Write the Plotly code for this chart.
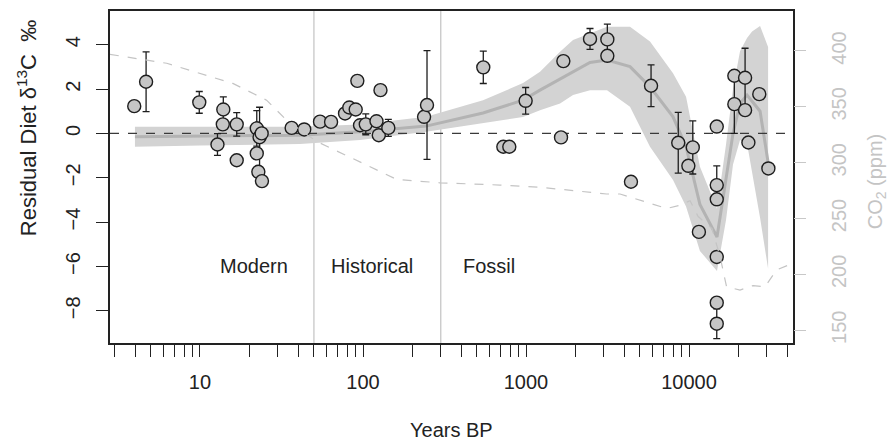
import math
import plotly.graph_objects as go

# ---------------- data ----------------
years = [3.95, 4.67, 9.9, 13.9, 13.8, 12.8, 16.8, 16.8, 22.3, 23.2, 23.9, 22.3, 22.8, 24.0,
         36.5, 43.6, 54.5, 63.7, 77.6, 82.4, 90.2, 92.3, 95.9, 104, 121, 125, 128, 143,
         237, 247, 547, 726, 790, 995, 1640, 1695, 2470, 3155, 3155, 4405,
         5850, 8590, 9910, 10550, 11500, 14800, 14800, 14800, 14800, 14800, 14800,
         18970, 18970, 22080, 22080, 23140, 26980, 30690]
resid = [1.23, 2.33, 1.40, 1.08, 0.41, -0.50, 0.41, -1.21, 0.23, -0.17, 0.0, -0.90, -1.73, -2.15,
         0.25, 0.18, 0.53, 0.52, 0.90, 1.17, 1.08, 2.37, 0.37, 0.41, 0.55, -0.08, 1.95, 0.25,
         0.75, 1.28, 2.98, -0.60, -0.60, 1.47, -0.18, 3.26, 4.26, 4.24, 3.50, -2.18,
         2.15, -0.42, -1.46, -0.63, -4.44, 0.31, -2.33, -2.97, -5.57, -7.63, -8.58,
         2.60, 1.32, 2.51, 1.05, -0.41, 1.77, -1.58]
resid_err = [0, 1.35, 0.49, 0.57, 0, 0.49, 0.53, 0, 0.80, 1.35, 0, 0, 0, 0,
             0, 0, 0, 0, 0, 0, 0, 0, 0, 0.47, 0, 0, 0, 0.38,
             0, 2.45, 0.73, 0, 0, 0.60, 0, 0, 0.47, 0.69, 0, 0,
             0.94, 1.37, 0, 1.20, 0, 0, 0.87, 0, 0, 0, 0.67,
             0, 1.32, 1.33, 0, 0, 0, 0]

# smoothed trend with confidence band
fit_years = [3.99, 10, 41, 96, 244, 545, 959, 1219, 1618, 1943, 2470, 3140, 4345, 5765,
             7980, 9590, 11670, 14850, 16870, 18620, 20560, 22700, 24370, 27290, 30560]
fit_mid = [-0.15, -0.12, -0.08, 0.07, 0.33, 0.92, 1.50, 1.95, 2.45, 2.78, 3.20, 3.31, 3.01, 2.10,
           0.75, -0.60, -3.20, -4.67, -1.96, 0.0, 1.35, 1.73, 1.45, 1.00, -1.30]
fit_upper = [0.30, 0.30, 0.30, 0.40, 0.75, 1.50, 2.27, 2.78, 3.68, 4.21, 4.51, 4.81, 4.81, 4.14,
             2.71, 1.65, -1.50, -3.40, -0.50, 2.00, 3.70, 4.30, 4.60, 4.84, 3.90]
fit_lower = [-0.60, -0.55, -0.48, -0.30, 0.07, 0.46, 0.74, 1.05, 1.35, 1.73, 1.95, 1.95, 1.20, -0.60,
             -2.10, -3.30, -5.30, -6.20, -3.90, -1.40, -0.30, -0.45, -1.65, -3.80, -6.10]

# atmospheric CO2 (ppm)
co2_years = [2.8, 6.25, 15.9, 25.6, 34, 52, 83, 127, 161, 296, 692, 1219, 3126, 3775,
             7300, 8815, 10150, 11350, 13830, 15500, 17000, 20550, 24700, 29250, 34500, 41700]
co2_ppm = [397, 389, 371, 356, 338, 319, 305, 292, 285, 282, 280, 278, 272, 272,
           259, 262, 266, 252, 241, 216, 189, 186, 190, 189, 204, 209]

period_bounds = [50, 300]
period_labels = ["Modern", "Historical", "Fossil"]
period_label_years = [12.9, 61.8, 399]
period_label_y = -6

x_major = [10, 100, 1000, 10000]
x_major_text = ["10", "100", "1000", "10000"]
x_minor = [3, 4, 5, 6, 7, 8, 9, 20, 30, 40, 50, 60, 70, 80, 90, 200, 300, 400, 500,
           600, 700, 800, 900, 2000, 3000, 4000, 5000, 6000, 7000, 8000, 9000,
           20000, 30000, 40000]
y_tickvals = [-8, -6, -4, -2, 0, 2, 4]
y_ticktext = ["\u22128", "\u22126", "\u22124", "\u22122", "0", "2", "4"]
y2_tickvals = [150, 200, 250, 300, 350, 400]

# ---------------- figure ----------------
FONT = "Liberation Sans, Arial, Helvetica, sans-serif"
INK = "#222222"
xlog_range = [0.4479, 4.638]
y_range = [-9.45, 5.52]
y2_range = [138.6, 435.8]

fig = go.Figure()

# CO2 dashed line on right axis
fig.add_trace(go.Scatter(x=co2_years, y=co2_ppm, yaxis="y2", mode="lines",
                         line=dict(color="#c4c4c4", width=1.2, dash="dash"),
                         hoverinfo="skip", showlegend=False))

# confidence band
fig.add_trace(go.Scatter(x=fit_years + fit_years[::-1], y=fit_upper + fit_lower[::-1],
                         mode="lines", fill="toself", fillcolor="#d3d3d3",
                         line=dict(width=0, color="#d3d3d3"), hoverinfo="skip", showlegend=False))
fig.add_trace(go.Scatter(x=fit_years, y=fit_mid, mode="lines",
                         line=dict(color="#b3b3b3", width=3), hoverinfo="skip", showlegend=False))

# zero reference line across the whole axis range
fig.add_trace(go.Scatter(x=[10 ** xlog_range[0], 10 ** xlog_range[1]], y=[0, 0], mode="lines",
                         line=dict(color="#3a3a3a", width=1.3, dash="dash"),
                         hoverinfo="skip", showlegend=False))

# data points
fig.add_trace(go.Scatter(x=years, y=resid, mode="markers",
                         marker=dict(size=13, color="#c6c6c6", line=dict(color="#1e1e1e", width=1.4)),
                         error_y=dict(type="data", array=resid_err, visible=True,
                                      color="#1e1e1e", thickness=1.3, width=3.5),
                         showlegend=False))

for b in period_bounds:
    fig.add_shape(type="line", x0=b, x1=b, xref="x", y0=0, y1=1, yref="paper",
                  line=dict(color="#c2c2c2", width=1.2), layer="below")

for lab, xv in zip(period_labels, period_label_years):
    fig.add_annotation(x=math.log10(xv), y=period_label_y, text=lab,
                       showarrow=False, xanchor="left", yanchor="middle",
                       font=dict(family=FONT, size=20, color=INK))

# axis titles
fig.add_annotation(x=-0.1215, y=0.647, xref="paper", yref="paper",
                   xanchor="center", yanchor="middle",
                   text="Residual Diet \u03b4<sup>13</sup>C\u00a0\u00a0\u2030", textangle=-90,
                   showarrow=False, font=dict(family=FONT, size=22, color=INK))
fig.add_annotation(x=0.5, y=-0.263, xref="paper", yref="paper", text="Years BP",
                   xanchor="center", yanchor="middle",
                   showarrow=False, font=dict(family=FONT, size=20, color=INK))
fig.add_annotation(x=1.1225, y=0.486, xref="paper", yref="paper", text="CO<sub>2</sub> (ppm)",
                   xanchor="center", yanchor="middle",
                   textangle=-90, showarrow=False, font=dict(family=FONT, size=20, color="#c4c4c4"))

tick_style = dict(ticks="outside", ticklen=12, tickwidth=1.3, tickcolor=INK)

fig.update_layout(
    width=888, height=441,
    margin=dict(l=110, r=95, t=11, b=98, autoexpand=False),
    paper_bgcolor="white", plot_bgcolor="white",
    font=dict(family=FONT, size=20, color=INK),
    xaxis=dict(type="log", range=xlog_range, showgrid=False, zeroline=False,
               showline=True, mirror=True, linecolor=INK, linewidth=1.6,
               tickmode="array", tickvals=x_major, ticktext=x_major_text,
               minor=dict(tickmode="array", tickvals=x_minor, showgrid=False, **tick_style),
               tickfont=dict(family=FONT, size=20, color=INK), ticklabelstandoff=8,
               **tick_style),
    yaxis=dict(range=y_range, showgrid=False, zeroline=False,
               showline=True, mirror=True, linecolor=INK, linewidth=1.6,
               tickvals=y_tickvals, ticktext=y_ticktext, tickangle=-90,
               tickfont=dict(family=FONT, size=20, color=INK), ticklabelstandoff=8,
               **tick_style),
    yaxis2=dict(range=y2_range, overlaying="y", side="right", showgrid=False, zeroline=False,
                showline=False, ticks="outside", ticklen=12, tickwidth=1.3, tickcolor="#c8c8c8",
                tickvals=y2_tickvals, tickangle=-90,
                tickfont=dict(family=FONT, size=20, color="#c4c4c4"), ticklabelstandoff=16),
)

fig.write_html("out.html", config={"displayModeBar": False},
               post_script="document.body.style.margin='0px';")
